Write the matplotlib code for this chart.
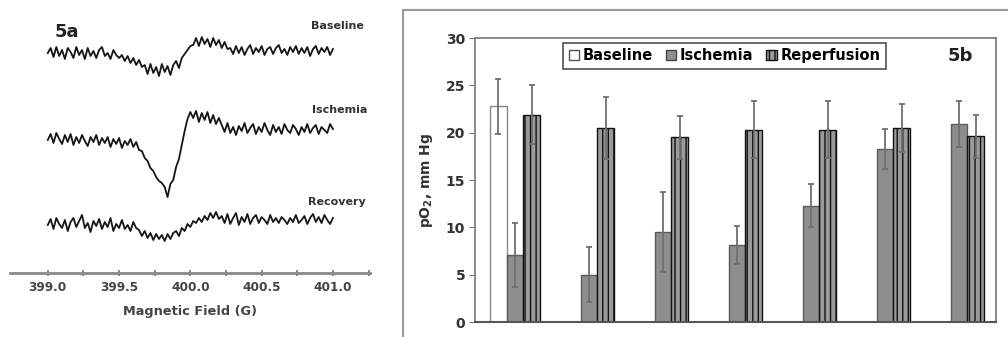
import matplotlib
matplotlib.use("Agg")
import matplotlib.pyplot as plt
import numpy as np
from matplotlib.patches import Rectangle, Patch

# ---------------- data ----------------
field_start, field_stop = 399.0, 401.0
baseline_trace = [0, 5, -4, 6, -3, 3, -6, 5, 1, -5, 6, -2, 3, -6, 5, -3, 2, -5, 3, 6, -3, 0, -6, 3, -2, -5,
                  -2, -8, -3, -10, -5, -12, -7, -14,
                  -12, -21, -11, -20, -14, -23, -11, -19, -13, -22, -12,
                  -8, -15, -5, -1, 3, 7,
                  8, 15, 7, 16, 9, 14, 6, 15, 8, 13, 5, 11, 4,
                  5, -1, 7, 0, 6, -2, 4, 8, -1, 5, 1, 7, -2, 4, 6, -1, 5, 8, 0, 4, -2, 6, 1, 7, -1, 5,
                  0, 6, -3, 4, 7, -1, 5, 1, 6, -2, 4]
ischemia_trace = [0, 6, -3, 7, 1, -4, 5, -2, 6, -5, 3, -3, 5, -1, -6, 3, -2, 5, -5, 2, -3, 3, -7, 1, -4, 2, -8, -1, -5, 1,
                  -7, -2, -10, -11, -18, -21,
                  -28, -31, -37, -41, -43, -47,
                  -57, -44, -40, -27, -19, -5, 9, 21, 28,
                  22, 29, 18, 27, 20, 28, 17, 25, 16, 22,
                  15, 8, 17, 7, 13, 5, 14, 9, 17, 7, 12, 16, 6, 13, 8, 17, 10, 5, 15, 8, 13, 6, 16, 10, 7,
                  15, 11, 5, 13, 8, 16, 7, 12, 15, 6, 13, 10, 7, 16, 11]
recovery_trace = [0, 6, -4, 7, 1, -3, 5, -6, 3, 7, -2, 4, 10, -3, 2, -7, 4, -1, 6, -4, 3, -2, 7, -6, 1, -3, 5, -4, 0, -6, 3, -3,
                  -5, -11, -6, -13, -8, -15, -9, -14, -10, -16, -9, -14, -8,
                  -6, -11, -3, -6, 1, -2, 4, 2,
                  7, 3, 9, 5, 12, 7, 13, 6,
                  9, 2, 11, 1, 7, 12, 0, 8, 3, 11, 1, 7, 10, 2, 8, 5, 1, 10, 3, 7, 2, 8, 5, 1, 7, 3,
                  10, 2, 5, 9, 1, 7, 11, 3, 8, 2, 10, 5, 1, 7]
trace_labels = ["Baseline", "Ischemia", "Recovery"]
field_ticks = [399.0, 399.5, 400.0, 400.5, 401.0]

series_names = ["Baseline", "Ischemia", "Reperfusion"]
baseline_vals = [22.8, np.nan, np.nan, np.nan, np.nan, np.nan, np.nan]
baseline_err = [2.9, np.nan, np.nan, np.nan, np.nan, np.nan, np.nan]
ischemia_vals = [7.1, 5.0, 9.5, 8.1, 12.3, 18.3, 20.9]
ischemia_err = [3.4, 2.9, 4.2, 2.0, 2.3, 2.1, 2.4]
reperf_vals = [21.9, 20.5, 19.5, 20.3, 20.3, 20.5, 19.6]
reperf_err = [3.1, 3.3, 2.3, 3.0, 3.0, 2.5, 2.3]
yticks = [0, 5, 10, 15, 20, 25, 30]

# ---------------- figure ----------------
W, H = 1008, 337
fig = plt.figure(figsize=(W / 100, H / 100), dpi=100)
plt.rcParams['font.family'] = ['DejaVu Sans']
plt.rcParams['hatch.linewidth'] = 1.0


def fbox(x0, y0, x1, y1):
    return [x0 / W, 1 - y1 / H, (x1 - x0) / W, (y1 - y0) / H]


# ---- left panel: EPR spectra ----
axL = fig.add_axes(fbox(10, 10, 370, 273))
n = len(baseline_trace)
field = np.linspace(field_start, field_stop, n)
offsets = [220, 133, 48]
for tr, off in zip([baseline_trace, ischemia_trace, recovery_trace], offsets):
    axL.plot(field, np.asarray(tr) + off, color="#151515", lw=1.3)
axL.set_xlim(398.735, 401.26)
axL.set_ylim(0, 263)
for s in ["left", "right", "top"]:
    axL.spines[s].set_visible(False)
axL.spines["bottom"].set_color("#8a8a8a")
axL.spines["bottom"].set_linewidth(2)
axL.set_yticks([])
axL.set_xticks(field_ticks)
axL.set_xticks([399.25, 399.75, 400.25, 400.75, 401.25], minor=True)
axL.set_xticklabels([f"{v:.1f}" for v in field_ticks], fontweight="bold", fontsize=8.7, color="#444444")
axL.tick_params(axis="x", which="both", direction="inout", length=5, width=1.2, color="#777777", pad=3)
axL.set_xlabel("Magnetic Field (G)", fontweight="bold", fontsize=9.3, color="#444444", labelpad=8)
axL.patch.set_alpha(0)

label_pos = [(337, 26), (340, 110), (337, 202)]
for lab, (px, py) in zip(trace_labels, label_pos):
    fig.text(px / W, 1 - py / H, lab, fontsize=8, fontweight="bold", color="#333333",
             ha="center", va="center")
fig.text(67 / W, 1 - 32 / H, "5a", fontsize=13, fontweight="bold", color="#222222",
         ha="center", va="center")

# ---- right panel: bar chart ----
fig.patches.append(Rectangle((403 / W, -0.05), 1.1, 1 - 10 / H + 0.05, transform=fig.transFigure,
                             fill=False, edgecolor="#9a9a9a", lw=1.5))

axR = fig.add_axes(fbox(475, 38, 996, 322))
x = np.arange(len(ischemia_vals))
w = 0.225
ekw = dict(ecolor="#707070", elinewidth=1.3, capsize=2.5, capthick=1.3)
axR.bar(x - w, baseline_vals, w, yerr=baseline_err, color="white", edgecolor="#888888", lw=1.0,
        error_kw=ekw, label=series_names[0])
axR.bar(x, ischemia_vals, w, yerr=ischemia_err, color="#8e8e8e", edgecolor="#5a5a5a", lw=1.0,
        error_kw=ekw, label=series_names[1])
axR.bar(x + w, reperf_vals, w, yerr=reperf_err, color="#9a9a9a", edgecolor="#111111", lw=1.0,
        hatch="|||", error_kw=ekw, label=series_names[2])
axR.set_xlim(-0.54, 6.5)
axR.set_ylim(0, 30)
axR.set_yticks(yticks)
axR.set_yticklabels([str(v) for v in yticks], fontweight="bold", fontsize=10, color="#333333")
axR.set_xticks([])
axR.tick_params(axis="y", direction="out", length=4, color="#777777", pad=3)
for s in ["left", "right", "top"]:
    axR.spines[s].set_color("#777777")
    axR.spines[s].set_linewidth(1.2)
axR.spines["bottom"].set_color("#555555")
axR.spines["bottom"].set_linewidth(1.5)
axR.set_ylabel("pO$_\\mathbf{2}$, mm Hg", fontweight="bold", fontsize=10, color="#333333", labelpad=8)

handles = [Patch(facecolor="white", edgecolor="#555555"),
           Patch(facecolor="#8e8e8e", edgecolor="#444444"),
           Patch(facecolor="#9a9a9a", edgecolor="#111111", hatch="|||")]
leg = axR.legend(handles, series_names, ncol=3, loc="center", bbox_to_anchor=(0.479, 0.937),
                 prop={"weight": "bold", "size": 10.5}, frameon=True, fancybox=False,
                 handlelength=0.7, handleheight=0.7, handletextpad=0.25, columnspacing=0.9,
                 borderpad=0.4, borderaxespad=0)
leg.get_frame().set_edgecolor("#222222")
leg.get_frame().set_linewidth(1.2)
axR.text(0.931, 0.937, "5b", transform=axR.transAxes, fontsize=13, fontweight="bold",
         color="#222222", ha="center", va="center")

fig.savefig("out.png", dpi=100)
